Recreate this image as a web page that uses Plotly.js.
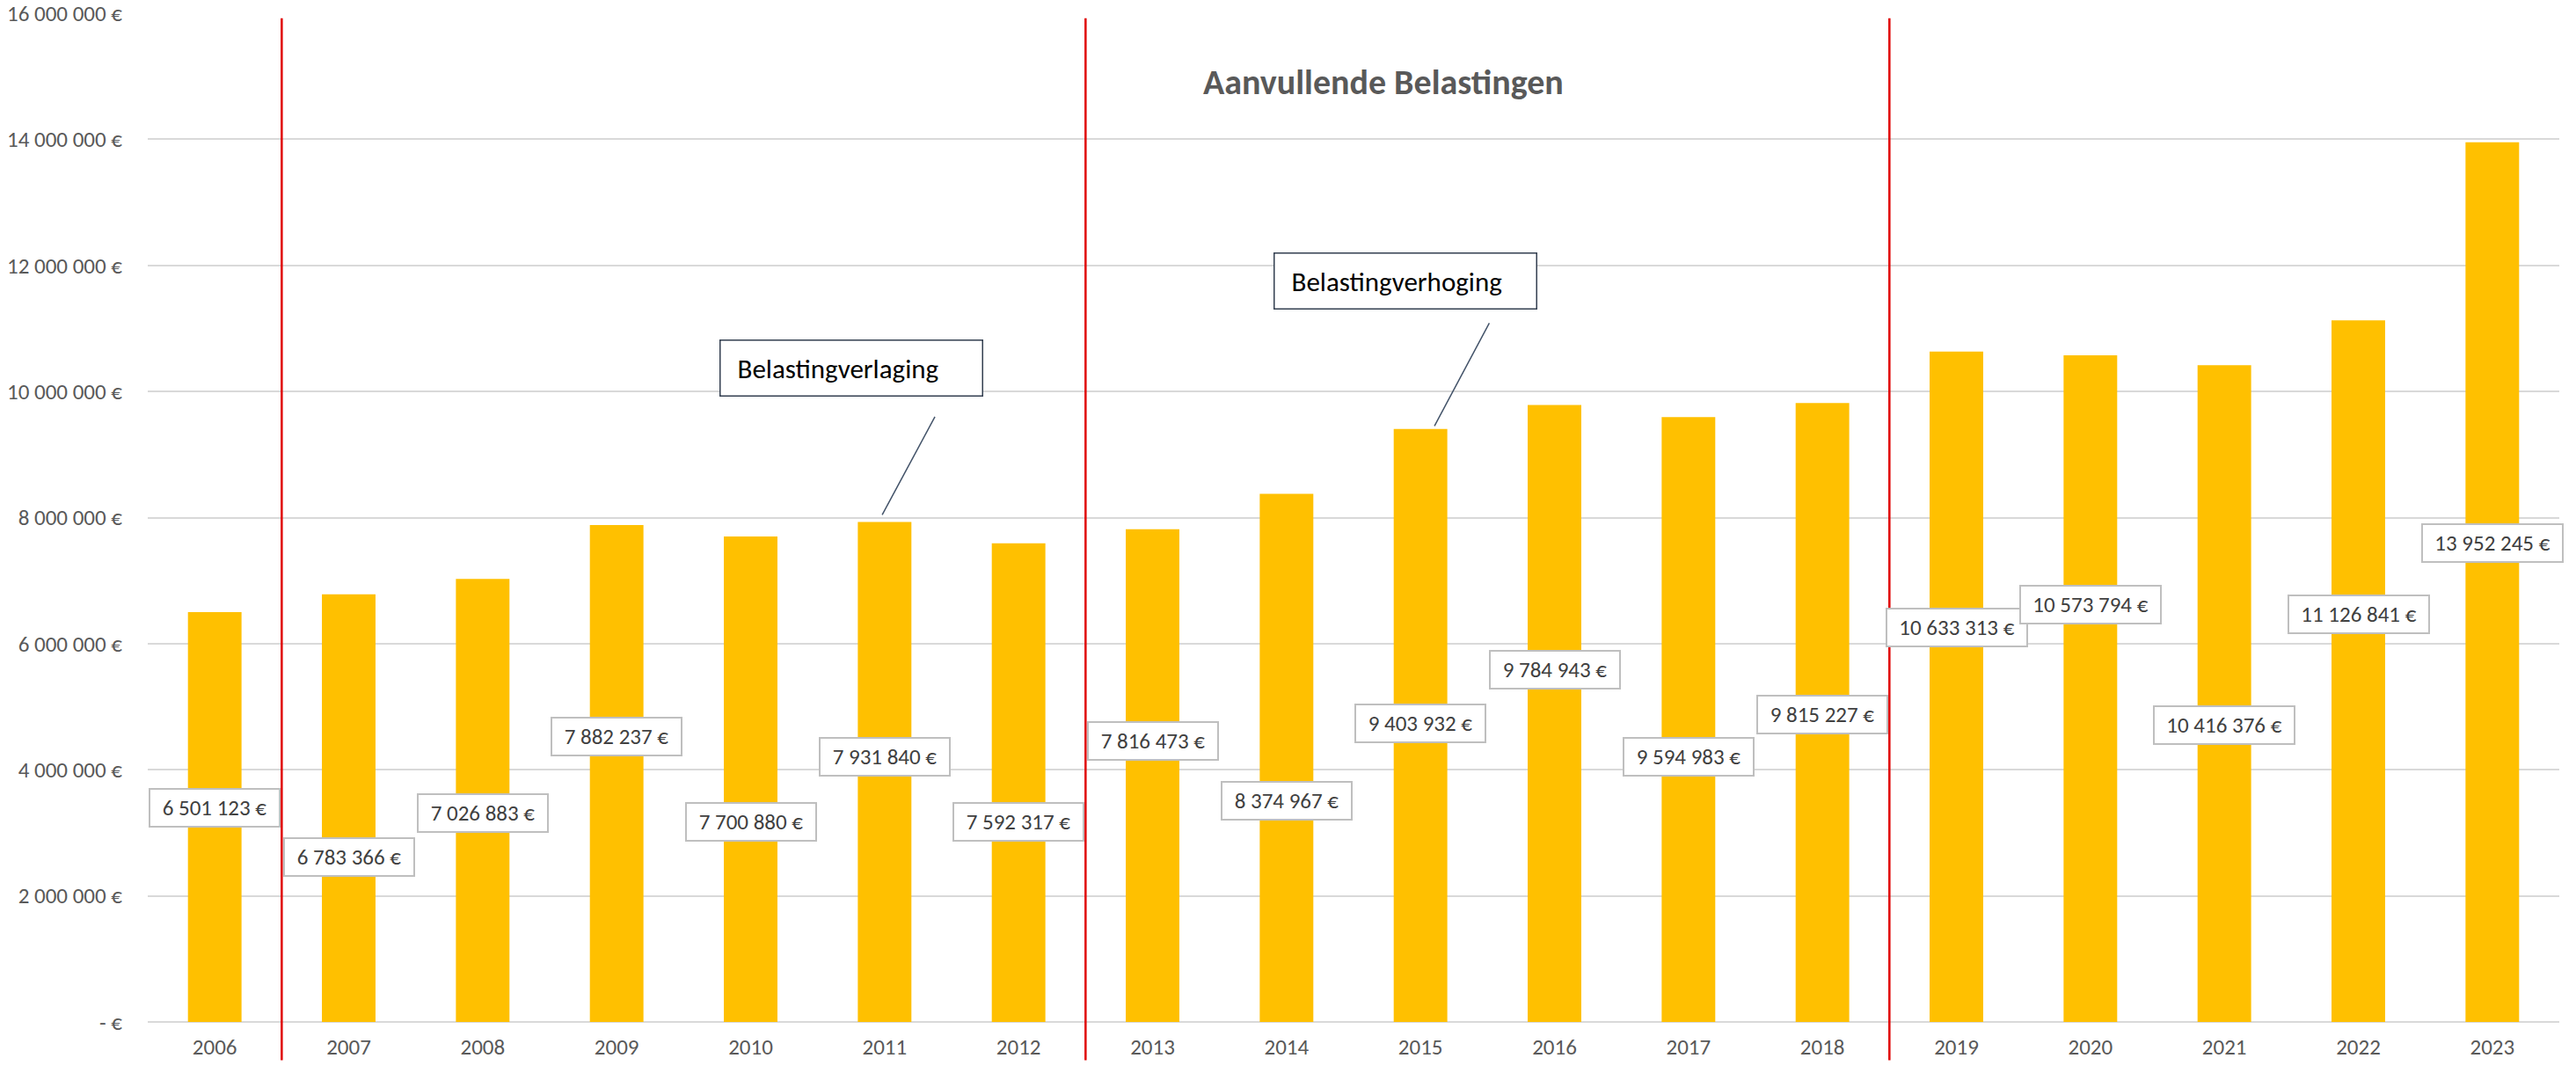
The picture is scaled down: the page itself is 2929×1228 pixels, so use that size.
<!DOCTYPE html>
<html>
<head>
<meta charset="utf-8">
<script src="https://cdn.plot.ly/plotly-3.0.1.min.js"></script>
<style>
  html, body { margin: 0; padding: 0; background: #fff; }
  #chart { width: 2929px; height: 1228px; }
</style>
</head>
<body>
<div id="chart"></div>
<script>
const years = ["2006", "2007", "2008", "2009", "2010", "2011", "2012", "2013", "2014",
  "2015", "2016", "2017", "2018", "2019", "2020", "2021", "2022", "2023"];

const amounts = [6501123, 6783366, 7026883, 7882237, 7700880, 7931840, 7592317, 7816473,
  8374967, 9403932, 9784943, 9594983, 9815227, 10633313, 10573794, 10416376, 11126841, 13952245];

const yTickVals = [0, 2000000, 4000000, 6000000, 8000000, 10000000, 12000000, 14000000, 16000000];
const yTickText = ["- €", "2 000 000 €", "4 000 000 €", "6 000 000 €", "8 000 000 €",
  "10 000 000 €", "12 000 000 €", "14 000 000 €", "16 000 000 €"];

// where the (hand-dragged) value labels sit, in axis units
const labelY = [3.39e6, 2.61e6, 3.31e6, 4.53e6, 3.18e6, 4.20e6, 3.18e6, 4.46e6, 3.51e6,
  4.74e6, 5.58e6, 4.20e6, 4.87e6, 6.25e6, 6.62e6, 4.71e6, 6.46e6, 7.59e6];

// period separators sit between these years (category index)
const breaks = [0.5, 6.5, 12.5];

const font = "Carlito, Lato, 'Open Sans', sans-serif";

function euro(v) {
  return String(v).replace(/\B(?=(\d{3})+(?!\d))/g, " ") + " €";
}

const chartDiv = document.getElementById("chart");

let barTrace = {
  x: years,
  y: amounts,
  type: "bar",
  marker: { color: "#FFC000" },
  hoverinfo: "x+y",
};

let annotations = [];
years.forEach((yr, i) => {
  const txt = euro(amounts[i]);
  annotations.push({
    x: i,
    y: labelY[i],
    text: txt,
    showarrow: false,
    font: { family: font, size: 25, color: "#404040" },
    bgcolor: "#FFFFFF",
    bordercolor: "#BFBFBF",
    borderwidth: 2,
    borderpad: 5,
    width: txt.length > 11 ? 148 : 136,
  });
});

// callout boxes
annotations.push({
  xref: "x", yref: "y", x: 4.75, y: 10.37e6,
  text: "  Belastingverlaging",
  showarrow: false,
  width: 287, height: 52, align: "left",
  font: { family: font, size: 31, color: "#000000" },
  bordercolor: "#333F50", borderwidth: 1.5, borderpad: 5,
  bgcolor: "#FFFFFF",
});
annotations.push({
  xref: "x", yref: "y", x: 8.89, y: 11.75e6,
  text: "  Belastingverhoging",
  showarrow: false,
  width: 287, height: 52, align: "left",
  font: { family: font, size: 31, color: "#000000" },
  bordercolor: "#333F50", borderwidth: 1.5, borderpad: 5,
  bgcolor: "#FFFFFF",
});
// leader lines to the bars
annotations.push({
  x: 5, y: amounts[5], text: "",
  showarrow: true, arrowhead: 0, arrowwidth: 1.5, arrowcolor: "#44546A",
  ax: 65, ay: -121, standoff: 9, xshift: -7,
});
annotations.push({
  x: 9, y: amounts[9], text: "",
  showarrow: true, arrowhead: 0, arrowwidth: 1.5, arrowcolor: "#44546A",
  ax: 65, ay: -122, standoff: 4, xshift: 14,
});

let shapes = breaks.map((b) => ({
  type: "line",
  xref: "x",
  yref: "paper",
  x0: b, x1: b,
  y0: -0.038, y1: 0.995,
  line: { color: "#E00000", width: 2.5 },
}));

var layout = {
  width: 2929,
  height: 1228,
  margin: { l: 168, r: 19, t: 15, b: 66 },
  paper_bgcolor: "#FFFFFF",
  plot_bgcolor: "#FFFFFF",
  showlegend: false,
  bargap: 0.6,
  title: {
    text: "<b>Aanvullende Belastingen</b>",
    x: 0.537, xref: "container", xanchor: "center",
    y: 0.924, yref: "container", yanchor: "middle",
    font: { family: font, size: 40, color: "#595959" },
  },
  xaxis: {
    type: "category",
    range: [-0.5, years.length - 0.5],
    tickfont: { family: font, size: 25, color: "#595959" },
    showgrid: false,
    showline: false,
    ticks: "",
    ticklabelstandoff: 11,
  },
  yaxis: {
    range: [0, 16000000],
    tickvals: yTickVals,
    ticktext: yTickText,
    tickfont: { family: font, size: 25, color: "#595959" },
    ticklabeloverflow: "allow",
    showgrid: true,
    gridcolor: "#D9D9D9",
    gridwidth: 2,
    zeroline: true,
    zerolinecolor: "#D9D9D9",
    zerolinewidth: 2,
    showline: false,
    ticks: "",
    ticklabelstandoff: 28,
  },
  annotations: annotations,
  shapes: shapes,
};

Plotly.newPlot(chartDiv, [barTrace], layout, { displayModeBar: false, staticPlot: true });
</script>
</body>
</html>
